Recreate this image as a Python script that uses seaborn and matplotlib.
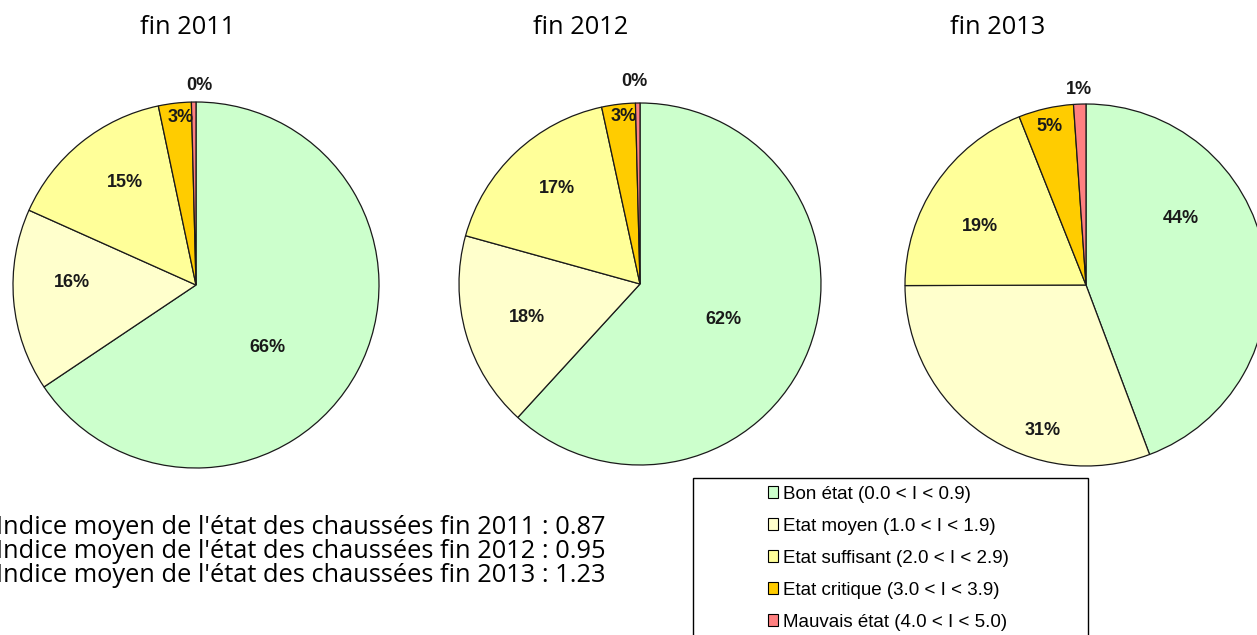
import matplotlib
matplotlib.use("Agg")
import matplotlib.pyplot as plt
import seaborn as sns
import numpy as np
from matplotlib.patches import Patch, Rectangle

# data (% of road length)
years = ["fin 2011", "fin 2012", "fin 2013"]
categories = ["Bon état (0.0 < I < 0.9)", "Etat moyen (1.0 < I < 1.9)",
              "Etat suffisant (2.0 < I < 2.9)", "Etat critique (3.0 < I < 3.9)",
              "Mauvais état (4.0 < I < 5.0)"]
vals_2011 = [65.6, 16.1, 15.0, 2.9, 0.4]
vals_2012 = [61.8, 17.5, 17.3, 3.0, 0.4]
vals_2013 = [44.2, 30.6, 19.0, 4.9, 1.1]
indices = ["0.87", "0.95", "1.23"]

colors = ["#CCFFCC", "#FFFFCC", "#FFFF99", "#FFCC00", "#FF8080"]

# label placement (radial distance, angle shift from wedge middle) per pie
label_dist = [[0.52, 0.68, 0.68, 0.92, 1.09],
              [0.50, 0.65, 0.70, 0.93, 1.12],
              [0.64, 0.84, 0.67, 0.90, 1.08]]
label_shift = [[-13, -6, -4, -1.5, -1.8],
               [-2, 0.7, -2.6, -1.4, 1],
               [25, 18, 5, 0.3, 0]]

sns.set_style("white")
plt.rcParams["font.family"] = ["Open Sans", "DejaVu Sans"]
plt.rcParams["text.color"] = "black"

W, H = 1257, 635
fig = plt.figure(figsize=(W / 100, H / 100), dpi=100)

# pie centre / radius in pixels, title x
layout = [(196, 285, 183, 188), (640, 284, 181, 581), (1086, 285, 181, 998)]

for k, (vals, year, (cx, cy, r, tx)) in enumerate(
        zip([vals_2011, vals_2012, vals_2013], years, layout)):
    ax = fig.add_axes([(cx - r) / W, 1 - (cy + r) / H, 2 * r / W, 2 * r / H])
    wedges, _ = ax.pie(vals, colors=colors, startangle=90, counterclock=False,
                       wedgeprops=dict(edgecolor="#1a1a1a", linewidth=0.9))
    total = sum(vals)
    for w, v, d, s in zip(wedges, vals, label_dist[k], label_shift[k]):
        ang = np.deg2rad((w.theta1 + w.theta2) / 2 + s)
        ax.text(d * np.cos(ang), d * np.sin(ang), f"{v / total * 100:.0f}%",
                ha="center", va="center", fontsize=13, fontweight="bold",
                family="Liberation Sans", color="#1a1a1a")
    ax.set_xlim(-1, 1)
    ax.set_ylim(-1, 1)
    ax.set_aspect("equal")
    fig.text(tx / W, 1 - 28 / H, year, ha="center", va="center", fontsize=18.3)

# index lines at the bottom left
for i, (year, idx) in enumerate(zip(years, indices)):
    fig.text(606 / W, 1 - (528 + i * 23.5) / H,
             f"Indice moyen de l'état des chaussées {year} : {idx}",
             ha="right", va="center", fontsize=18.3)

# legend
fig.patches.append(Rectangle((693 / W, -0.05), (1088 - 693) / W, 1 - 478 / H + 0.05,
                             transform=fig.transFigure, fill=False,
                             edgecolor="black", linewidth=1))
handles = [Patch(facecolor=c, edgecolor="black", linewidth=0.8) for c in colors]
fig.legend(handles, categories, loc="upper left",
           bbox_to_anchor=(764 / W, 1 - 482 / H), frameon=False,
           prop=dict(family="Liberation Sans", size=13.5),
           handlelength=0.55, handleheight=0.55, handletextpad=0.25,
           labelspacing=0.8, borderpad=0.2, borderaxespad=0)

fig.savefig("out.png", dpi=100, facecolor="white")
